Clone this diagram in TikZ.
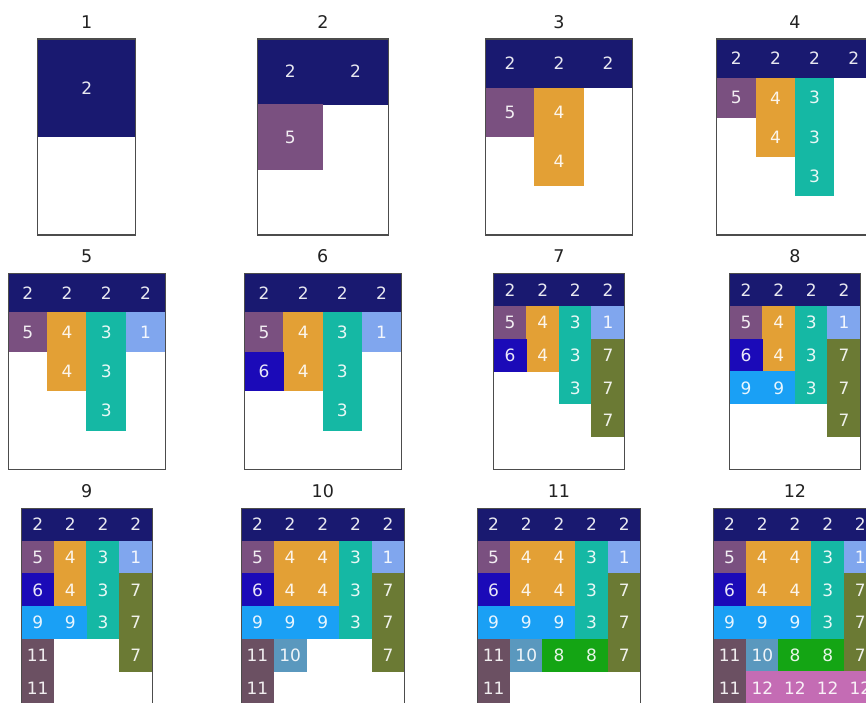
\documentclass[tikz,border=0pt]{standalone}
\usepackage{fontspec}
\setmainfont{DejaVu Sans}
\definecolor{k1}{HTML}{80A6EE}
\definecolor{k2}{HTML}{191970}
\definecolor{k3}{HTML}{15B8A4}
\definecolor{k4}{HTML}{E3A035}
\definecolor{k5}{HTML}{7A5080}
\definecolor{k6}{HTML}{1B0AB8}
\definecolor{k7}{HTML}{6B7A34}
\definecolor{k8}{HTML}{14A514}
\definecolor{k9}{HTML}{1AA0F5}
\definecolor{k10}{HTML}{5A98BE}
\definecolor{k11}{HTML}{6B5062}
\definecolor{k12}{HTML}{C46CB4}
\definecolor{ttlcol}{HTML}{222222}
\tikzset{
  lbl/.style={text=white, text opacity=0.9, inner sep=0pt, font=\fontsize{17}{20}\selectfont},
  ttl/.style={text=ttlcol, inner sep=0pt, anchor=base, font=\fontsize{17.5}{21}\selectfont},
  frame/.style={draw=black!70, line width=1.1pt}
}
% #1 id, #2 left, #3 top, #4 cell, #5 cols, #6 rows, #7 cells
\newcommand\drawpanel[7]{%
  \begin{scope}[shift={(#2,#3)}]
    \foreach \c/\r/\k in {#7} {
      \fill[k\k] ({\c*#4-0.25},{\r*#4-0.25}) rectangle ({(\c+1)*#4+0.25},{(\r+1)*#4+0.25});
    }
    \foreach \c/\r/\k in {#7} {
      \node[lbl] (L#1-\c-\r) at ({(\c+0.5)*#4},{(\r+0.5)*#4}) {\k};
    }
    \draw[frame] (0,0) rectangle ({#5*#4},{#6*#4});
    \node[ttl] (T#1) at ({#5*#4/2},-11) {#1};
  \end{scope}}
\begin{document}
\begin{tikzpicture}[x=1pt,y=-1pt]
\useasboundingbox (0,0) rectangle (866,702);
\clip (0,0) rectangle (866,702);
\fill[white] (0,0) rectangle (866,702);
\def\Tone{39}\def\Ttwo{273.5}\def\Tthree{508.3}
\drawpanel{1}{37.7}{\Tone}{98}{1}{2}{0/0/2}
\drawpanel{2}{257.5}{\Tone}{65.33}{2}{3}{0/0/2,1/0/2,0/1/5}
\drawpanel{3}{485.5}{\Tone}{49}{3}{4}{0/0/2,1/0/2,2/0/2,0/1/5,1/1/4,1/2/4}
\drawpanel{4}{716.6}{\Tone}{39.2}{4}{5}{0/0/2,1/0/2,2/0/2,3/0/2,0/1/5,1/1/4,2/1/3,1/2/4,2/2/3,2/3/3}
\drawpanel{5}{8.3}{\Ttwo}{39.2}{4}{5}{0/0/2,1/0/2,2/0/2,3/0/2,0/1/5,1/1/4,2/1/3,1/2/4,2/2/3,2/3/3,3/1/1}
\drawpanel{6}{244.4}{\Ttwo}{39.2}{4}{5}{0/0/2,1/0/2,2/0/2,3/0/2,0/1/5,1/1/4,2/1/3,1/2/4,2/2/3,2/3/3,3/1/1,0/2/6}
\drawpanel{7}{493.7}{\Ttwo}{32.67}{4}{6}{0/0/2,1/0/2,2/0/2,3/0/2,0/1/5,1/1/4,2/1/3,1/2/4,2/2/3,2/3/3,3/1/1,0/2/6,3/2/7,3/3/7,3/4/7}
\drawpanel{8}{729.7}{\Ttwo}{32.67}{4}{6}{0/0/2,1/0/2,2/0/2,3/0/2,0/1/5,1/1/4,2/1/3,1/2/4,2/2/3,2/3/3,3/1/1,0/2/6,3/2/7,3/3/7,3/4/7,0/3/9,1/3/9}
\drawpanel{9}{21.4}{\Tthree}{32.67}{4}{6}{0/0/2,1/0/2,2/0/2,3/0/2,0/1/5,1/1/4,2/1/3,1/2/4,2/2/3,2/3/3,3/1/1,0/2/6,3/2/7,3/3/7,3/4/7,0/3/9,1/3/9,0/4/11,0/5/11}
\drawpanel{10}{241.1}{\Tthree}{32.67}{5}{6}{0/0/2,1/0/2,2/0/2,3/0/2,4/0/2,0/1/5,1/1/4,2/1/4,3/1/3,4/1/1,0/2/6,1/2/4,2/2/4,3/2/3,4/2/7,0/3/9,1/3/9,2/3/9,3/3/3,4/3/7,0/4/11,1/4/10,4/4/7,0/5/11}
\drawpanel{11}{477.3}{\Tthree}{32.67}{5}{6}{0/0/2,1/0/2,2/0/2,3/0/2,4/0/2,0/1/5,1/1/4,2/1/4,3/1/3,4/1/1,0/2/6,1/2/4,2/2/4,3/2/3,4/2/7,0/3/9,1/3/9,2/3/9,3/3/3,4/3/7,0/4/11,1/4/10,4/4/7,0/5/11,2/4/8,3/4/8}
\drawpanel{12}{713.3}{\Tthree}{32.67}{5}{6}{0/0/2,1/0/2,2/0/2,3/0/2,4/0/2,0/1/5,1/1/4,2/1/4,3/1/3,4/1/1,0/2/6,1/2/4,2/2/4,3/2/3,4/2/7,0/3/9,1/3/9,2/3/9,3/3/3,4/3/7,0/4/11,1/4/10,4/4/7,0/5/11,2/4/8,3/4/8,1/5/12,2/5/12,3/5/12,4/5/12}
\end{tikzpicture}
\end{document}
